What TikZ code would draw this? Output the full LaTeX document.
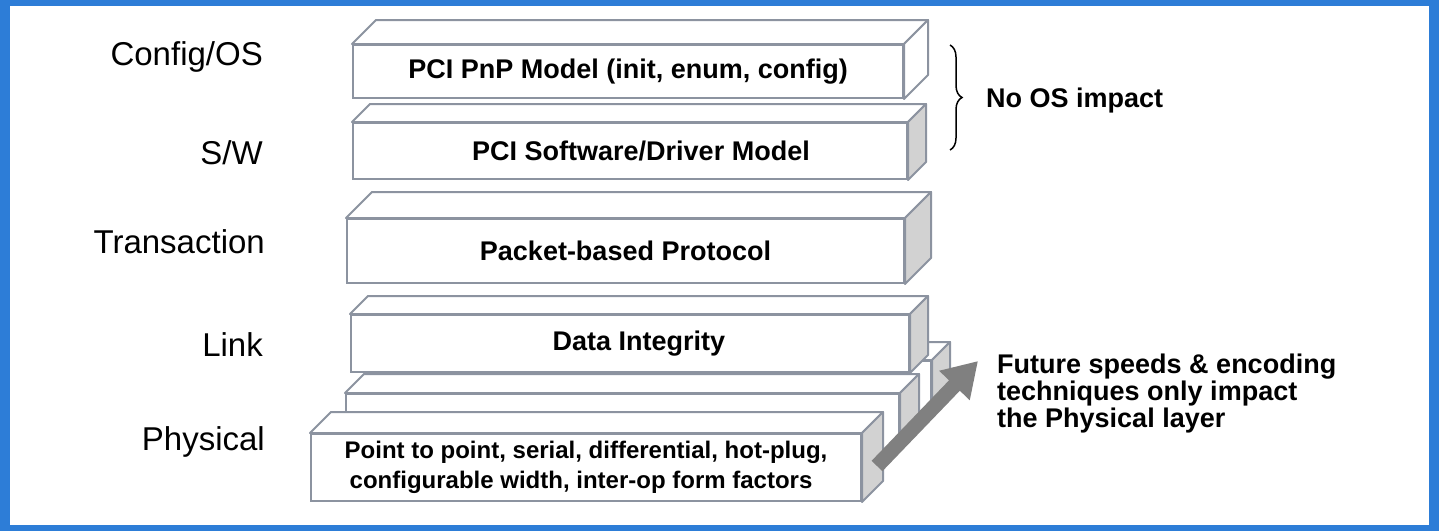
\documentclass[tikz,border=0pt]{standalone}
\usepackage{fontspec}
\setmainfont{Liberation Sans}
\usetikzlibrary{positioning, arrows.meta, decorations.pathreplacing}
\definecolor{edgegray}{RGB}{140,147,160}
\definecolor{sidegray}{RGB}{210,210,210}
\definecolor{arrowgray}{RGB}{128,128,128}
\definecolor{frameblue}{RGB}{45,125,215}
\tikzset{
  slabfront/.style={draw=edgegray, line width=2pt, fill=white, inner sep=0pt, anchor=north west,
    font=\fontsize{27}{29}\selectfont\bfseries, align=center},
  face/.style={draw=edgegray, line width=2pt, line join=round},
  lbl/.style={font=\fontsize{33}{36}\selectfont, anchor=east, inner sep=0pt},
  note/.style={font=\fontsize{27}{27}\selectfont\bfseries, align=left, anchor=west, inner sep=0pt},
  speedarrow/.style={arrowgray, line width=15pt, -{Triangle[length=34pt, width=40pt]}}
}
\newcommand{\slab}[3]{%
  \draw[face, fill=white] (#1.north west) -- ++(#2,-#2) -- ([shift={(#2,-#2)}]#1.north east) -- (#1.north east) -- cycle;
  \draw[face, fill=#3] (#1.north east) -- ++(#2,-#2) -- ([shift={(#2,-#2)}]#1.south east) -- (#1.south east) -- cycle;}
\begin{document}
\begin{tikzpicture}[x=1pt, y=-1pt]
  \fill[frameblue] (0,0) rectangle (1439,531);
  \fill[white] (10,6) rectangle (1429,525);

  \node[slabfront, minimum width=550pt, minimum height=53pt] (pnp) at (352,44) {PCI PnP Model (init, enum, config)};
  \slab{pnp}{24}{white}
  \node[slabfront, minimum width=554pt, minimum height=56pt] (sw) at (352,122) {\hspace*{22pt}PCI Software/Driver Model};
  \slab{sw}{18}{sidegray}
  \node[slabfront, minimum width=557pt, minimum height=64pt] (trans) at (346,218) {Packet-based Protocol};
  \slab{trans}{26}{sidegray}
  \node[slabfront, minimum width=552pt, minimum height=55pt] (phyback) at (378,360) {};
  \slab{phyback}{18}{sidegray}
  \node[slabfront, minimum width=558pt, minimum height=57pt] (link) at (350,314) {\hspace*{18pt}Data Integrity};
  \slab{link}{18}{sidegray}
  \node[slabfront, minimum width=553pt, minimum height=55pt] (phymid) at (345,393) {};
  \slab{phymid}{19}{sidegray}
  \node[slabfront, minimum width=550pt, minimum height=67pt, font=\fontsize{24}{30}\selectfont\bfseries] (phy) at (310,433)
    {Point to point, serial, differential, hot-plug,\\configurable width, inter-op form factors\hspace*{10pt}};
  \slab{phy}{21}{sidegray}

  \node[lbl] (lcfg) at (263,57) {Config/OS};
  \node[lbl] (lsw) at (263,153) {S/W};
  \node[lbl] (ltrans) at (265,242) {Transaction};
  \node[lbl] (llink) at (263,345) {Link};
  \node[lbl] (lphy) at (265,442) {Physical};

  \coordinate (os0) at (950,45);
  \coordinate (os1) at (950,150);
  \draw[decorate, decoration={brace, amplitude=12pt}, line width=1.5pt] (os0) -- (os1);
  \node[note] (noos) at (986,101) {No OS impact};

  \coordinate (speed0) at (877,466);
  \coordinate (speed1) at (978,361);
  \draw[speedarrow] (speed0) -- (speed1);
  \node[note] (future) at (997,394) {Future speeds \& encoding\\techniques only impact\\the Physical layer};
\end{tikzpicture}
\end{document}
